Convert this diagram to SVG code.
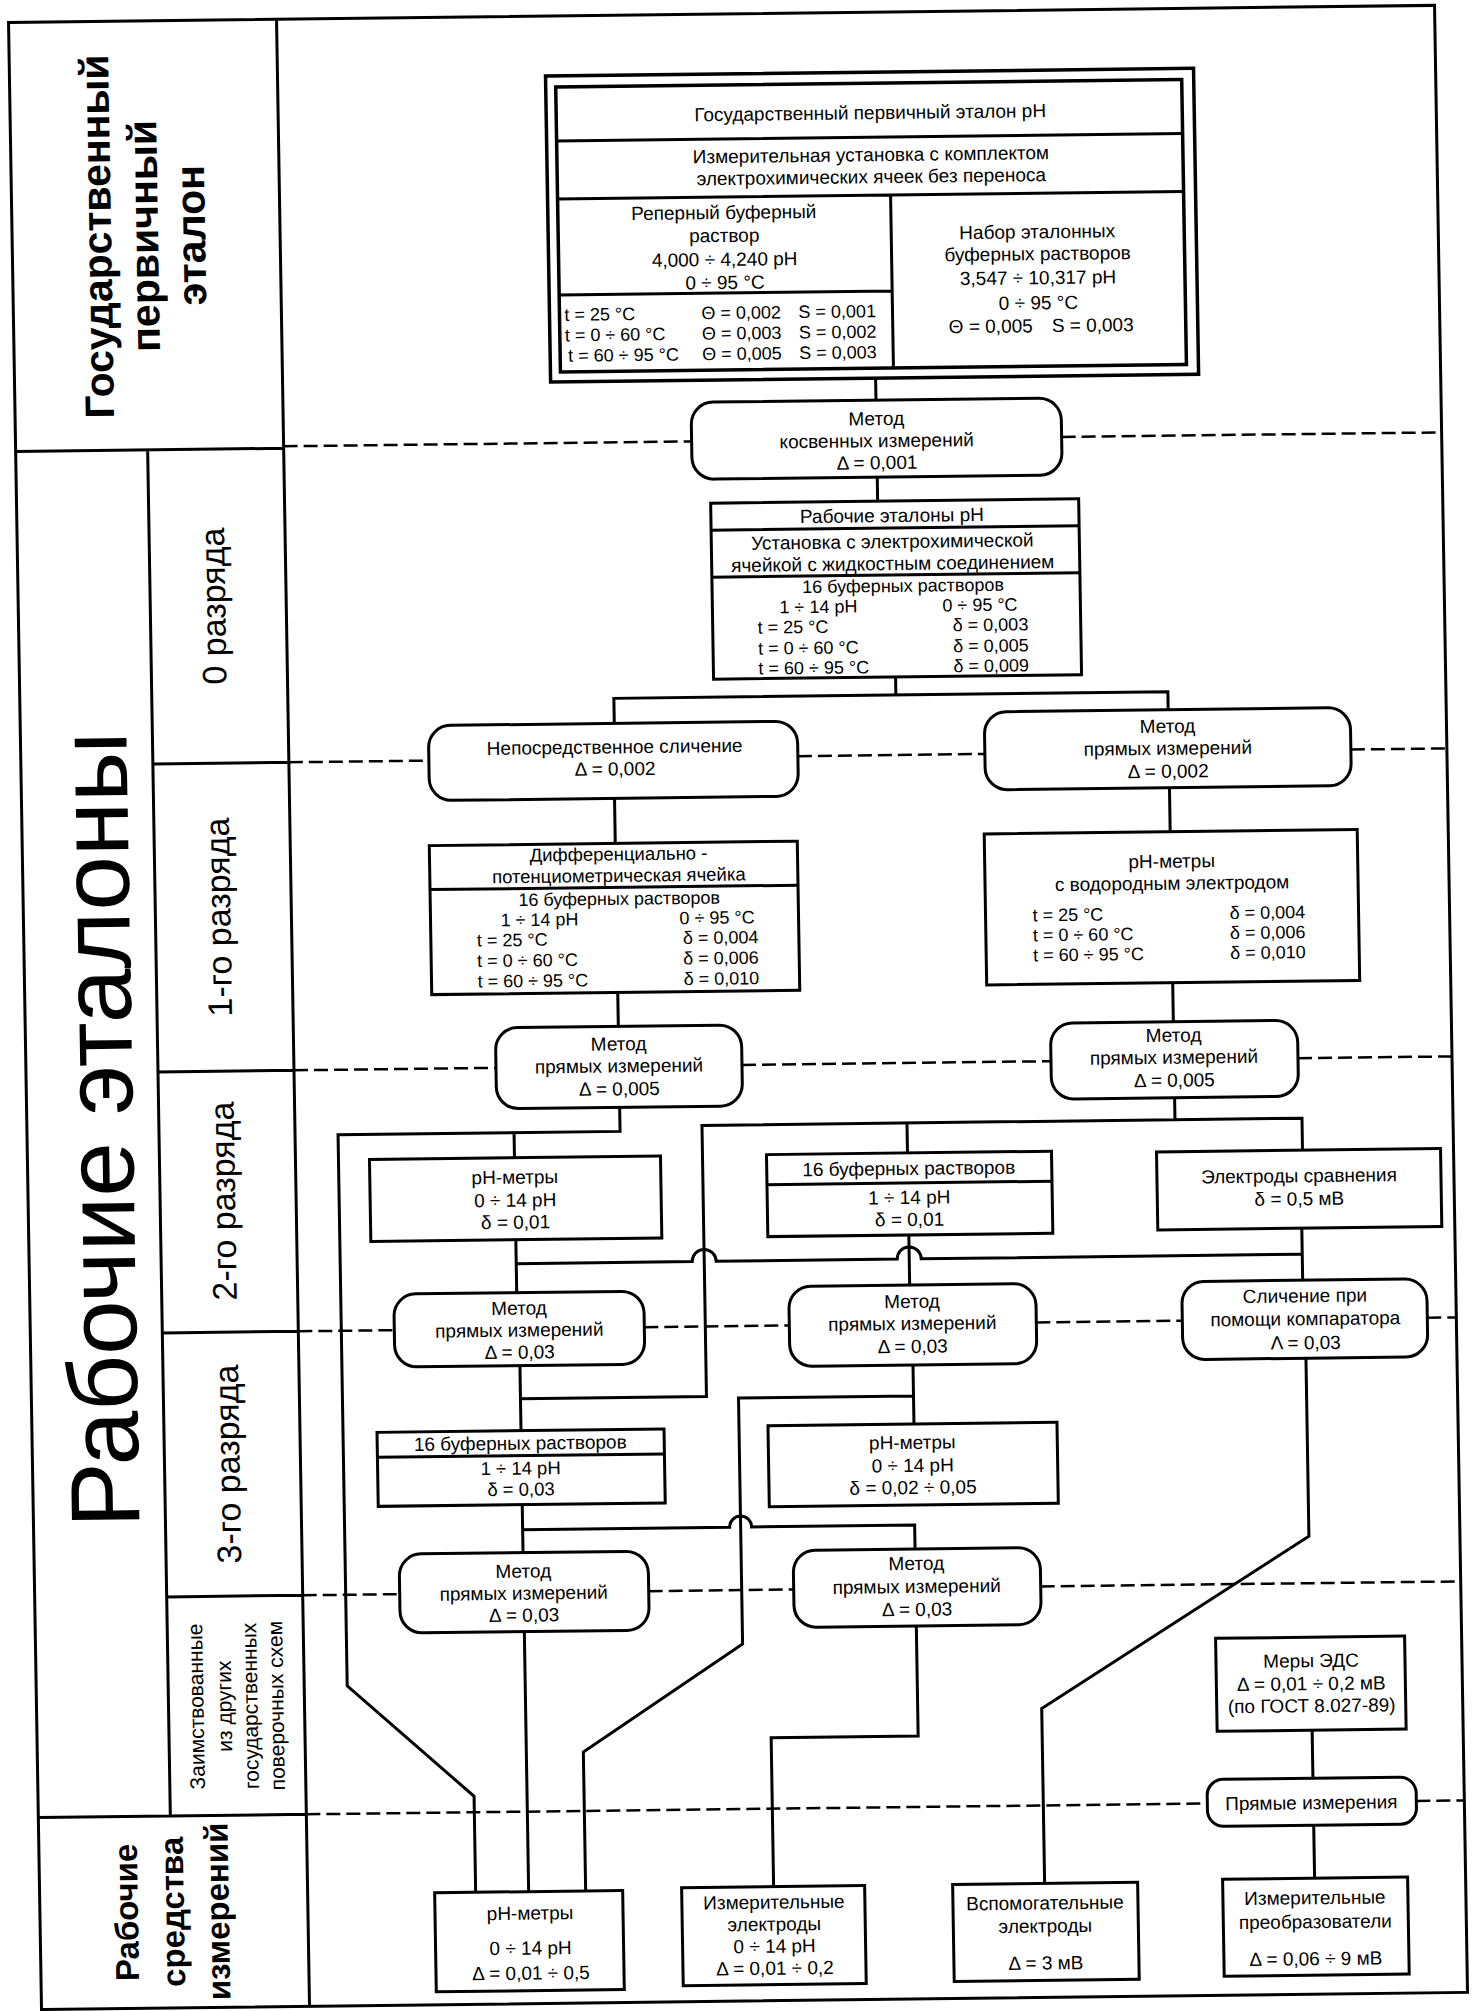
<svg xmlns="http://www.w3.org/2000/svg" width="1475" height="2011" viewBox="0 0 1475 2011">
<style>
.ln{fill:none;stroke:#000;stroke-width:3}
.bx{fill:#fff;stroke:#000;stroke-width:3}
.ds{fill:none;stroke:#000;stroke-width:2.5;stroke-dasharray:14 6}
text{font-family:"Liberation Sans",Arial,sans-serif;font-size:19px;fill:#000}
.c{text-anchor:middle}
.b{font-weight:bold}
.s{font-size:18px}
.s5{font-size:18.5px}
.rk{font-size:34px;text-anchor:middle}
.hd{font-size:41px;font-weight:bold;text-anchor:middle}
</style>
<rect x="0" y="0" width="1475" height="2011" fill="#fff"/>
<g transform="matrix(1,-0.012,0.0166,1,-16.7,8.8)">
<g id="frame">
<rect x="25" y="14" width="1426" height="1987" class="ln"/>
<path class="ln" d="M293,14V2001M25,443H293M157,443V1809M157,757H293M157,1065H293M157,1326H293M157,1590H293M25,1809H293"/>
<text class="hd" transform="translate(124,229) rotate(-90)">Государственный</text>
<text class="hd" transform="translate(171,229) rotate(-90)">первичный</text>
<text class="hd" transform="translate(218,229) rotate(-90)">эталон</text>
<text class="c" style="font-size:98px" transform="translate(131,1122) rotate(-90)">Рабочие эталоны</text>
<text class="rk" transform="translate(232,600) rotate(-90)">0 разряда</text>
<text class="rk" transform="translate(232,911) rotate(-90)">1-го разряда</text>
<text class="rk" transform="translate(232,1195) rotate(-90)">2-го разряда</text>
<text class="rk" transform="translate(232,1458) rotate(-90)">3-го разряда</text>
<text class="c" style="font-size:21px" transform="translate(192,1700) rotate(-90)">Заимствованные</text>
<text class="c" style="font-size:21px" transform="translate(220,1700) rotate(-90)">из других</text>
<text class="c" style="font-size:21px" transform="translate(246,1700) rotate(-90)">государственных</text>
<text class="c" style="font-size:21px" transform="translate(272,1700) rotate(-90)">поверочных схем</text>
<text class="c b" style="font-size:33px" transform="translate(123,1905) rotate(-90)">Рабочие</text>
<text class="c b" style="font-size:33px" transform="translate(169,1905) rotate(-90)">средства</text>
<text class="c b" style="font-size:33px" transform="translate(214,1905) rotate(-90)">измерений</text>
</g>
<g id="connectors">
<path class="ds" d="M293,441H701M1071,441H1451"/>
<path class="ds" d="M293,757H433M802,757H989M1355,757H1451"/>
<path class="ds" d="M293,1065H495M741,1065H1050M1297,1065H1451"/>
<path class="ds" d="M293,1326H389M639,1326H784M1031,1326H1177M1422,1326H1451"/>
<path class="ds" d="M293,1590H390M639,1590H784M1031,1590H1451"/>
<path class="ds" d="M293,1809H1194M1403,1809H1451"/>
<path class="ln" d="M886,380V402M886,479V503M901,679V697M619,722V697H1173V715"/>
<path class="ln" d="M618,797V842M618,991V1025M1173,793V837M1173,988V1027"/>
<path class="ln" d="M618,1106V1130H336V1681L461,1793V1889M512,1130V1155"/>
<path class="ln" d="M1173,1103V1125M1300,1157V1125H700V1396H514M905,1125V1155"/>
<path class="ln" d="M512,1237V1290M905,1237V1287M1298,1235V1287"/>
<path class="ln" d="M512,1261H688A12,12 0 0 1 712,1261H893A12,12 0 0 1 917,1261H1298"/>
<path class="ln" d="M514,1363V1428M907,1367V1426M907,1398H732V1644L571,1750V1889"/>
<path class="ln" d="M514,1502V1550M514,1527H721A11,11 0 0 1 743,1527H906V1551"/>
<path class="ln" d="M514,1629V1889M906,1628V1738H759V1887"/>
<path class="ln" d="M1300,1365V1543L1030,1712V1887"/>
<path class="ln" d="M1300,1737V1785M1300,1832V1885"/>
</g>
<g id="n-primary">
<rect x="561" y="74" width="648" height="306" fill="#fff" stroke="#000" stroke-width="3.5"/>
<rect x="571" y="85" width="626" height="285" fill="none" stroke="#000" stroke-width="3.5"/>
<path class="ln" d="M571,139H1197M571,197H1197M904,197V370M571,293H904"/>
<text class="c" x="885" y="121">Государственный первичный эталон pH</text>
<text class="c" x="885" y="163">Измерительная установка с комплектом</text>
<text class="c" x="885" y="185">электрохимических ячеек без переноса</text>
<text class="c" x="737" y="219">Реперный буферный</text>
<text class="c" x="737" y="242">раствор</text>
<text class="c" x="737" y="266">4,000 ÷ 4,240 pH</text>
<text class="c" x="737" y="289">0 ÷ 95 °C</text>
<text class="s" x="576" y="319">t = 25 °C</text><text class="s" x="713" y="319">Θ = 0,002</text><text class="s" x="810" y="319">S = 0,001</text>
<text class="s" x="576" y="339.5">t = 0 ÷ 60 °C</text><text class="s" x="713" y="339.5">Θ = 0,003</text><text class="s" x="810" y="339.5">S = 0,002</text>
<text class="s" x="579" y="360">t = 60 ÷ 95 °C</text><text class="s" x="713" y="360">Θ = 0,005</text><text class="s" x="810" y="360">S = 0,003</text>
<text class="c" x="1050" y="242">Набор эталонных</text>
<text class="c" x="1050" y="264">буферных растворов</text>
<text class="c" x="1050" y="288">3,547 ÷ 10,317 pH</text>
<text class="c" x="1050" y="313">0 ÷ 95 °C</text>
<text x="960" y="336">Θ = 0,005</text><text x="1063" y="336">S = 0,003</text>
</g>
<g id="n-kosv">
<rect x="701" y="402" width="370" height="77" rx="22" class="bx"/>
<text class="c" x="886" y="427">Метод</text>
<text class="c" x="886" y="449">косвенных измерений</text>
<text class="c" x="886" y="471">Δ = 0,001</text>
</g>
<g id="n-rab0">
<rect x="719" y="503" width="368" height="176" class="bx"/>
<path class="ln" d="M719,530H1087M719,577H1087"/>
<text class="c" x="900" y="524">Рабочие эталоны pH</text>
<text class="c" x="900" y="550">Установка с электрохимической</text>
<text class="c" x="900" y="572">ячейкой с жидкостным соединением</text>
<text class="c s" x="910" y="594">16 буферных растворов</text>
<text class="c s" x="825" y="614">1 ÷ 14 pH</text><text class="s" x="949" y="614">0 ÷ 95 °C</text>
<text class="s" x="764" y="634">t = 25 °C</text><text class="s" x="959" y="634">δ = 0,003</text>
<text class="s" x="764" y="655">t = 0 ÷ 60 °C</text><text class="s" x="959" y="655">δ = 0,005</text>
<text class="s" x="764" y="675">t = 60 ÷ 95 °C</text><text class="s" x="959" y="675">δ = 0,009</text>
</g>
<g id="n-neposr">
<rect x="433" y="722" width="369" height="75" rx="22" class="bx"/>
<text class="c" x="619" y="752">Непосредственное сличение</text>
<text class="c" x="619" y="774">Δ = 0,002</text>
</g>
<g id="n-pr1">
<rect x="989" y="715" width="366" height="78" rx="22" class="bx"/>
<text class="c" x="1172" y="738">Метод</text>
<text class="c" x="1172" y="760">прямых измерений</text>
<text class="c" x="1172" y="783">Δ = 0,002</text>
</g>
<g id="n-diff">
<rect x="432" y="842" width="368" height="149" class="bx"/>
<path class="ln" d="M432,886H800"/>
<text class="c s5" x="621" y="859">Дифференциально -</text>
<text class="c s5" x="621" y="880.5">потенциометрическая ячейка</text>
<text class="c s" x="621" y="903.5">16 буферных растворов</text>
<text class="c s" x="541" y="923.5">1 ÷ 14 pH</text><text class="s" x="681" y="923.5">0 ÷ 95 °C</text>
<text class="s" x="478" y="943.5">t = 25 °C</text><text class="s" x="684" y="943.5">δ = 0,004</text>
<text class="s" x="478" y="964">t = 0 ÷ 60 °C</text><text class="s" x="684" y="964">δ = 0,006</text>
<text class="s" x="478" y="984.5">t = 60 ÷ 95 °C</text><text class="s" x="684" y="984.5">δ = 0,010</text>
</g>
<g id="n-phh">
<rect x="987" y="837" width="373" height="151" class="bx"/>
<text class="c" x="1174" y="873">pH-метры</text>
<text class="c" x="1174" y="895">с водородным электродом</text>
<text class="s" x="1034" y="925">t = 25 °C</text><text class="s" x="1231" y="925">δ = 0,004</text>
<text class="s" x="1034" y="945">t = 0 ÷ 60 °C</text><text class="s" x="1231" y="945">δ = 0,006</text>
<text class="s" x="1034" y="965">t = 60 ÷ 95 °C</text><text class="s" x="1231" y="965">δ = 0,010</text>
</g>
<g id="n-pr2l">
<rect x="495" y="1025" width="246" height="81" rx="22" class="bx"/>
<text class="c" x="618" y="1049">Метод</text>
<text class="c" x="618" y="1071">прямых измерений</text>
<text class="c" x="618" y="1094">Δ = 0,005</text>
</g>
<g id="n-pr2r">
<rect x="1050" y="1027" width="247" height="76" rx="22" class="bx"/>
<text class="c" x="1173" y="1047">Метод</text>
<text class="c" x="1173" y="1069">прямых измерений</text>
<text class="c" x="1173" y="1092">Δ = 0,005</text>
</g>
<g id="n-ph2">
<rect x="367" y="1155" width="291" height="82" class="bx"/>
<text class="c" x="512" y="1181">pH-метры</text>
<text class="c" x="512" y="1204">0 ÷ 14 pH</text>
<text class="c" x="512" y="1226">δ = 0,01</text>
</g>
<g id="n-buf2">
<rect x="764" y="1155" width="285" height="82" class="bx"/>
<path class="ln" d="M764,1185H1049"/>
<text class="c" x="906" y="1177">16 буферных растворов</text>
<text class="c" x="906" y="1206">1 ÷ 14 pH</text>
<text class="c" x="906" y="1228">δ = 0,01</text>
</g>
<g id="n-elsr">
<rect x="1154" y="1157" width="284" height="78" class="bx"/>
<text class="c" x="1296" y="1189">Электроды сравнения</text>
<text class="c" x="1296" y="1212">δ = 0,5 мВ</text>
</g>
<g id="n-pr3l">
<rect x="389" y="1290" width="250" height="73" rx="22" class="bx"/>
<text class="c" x="514" y="1312">Метод</text>
<text class="c" x="514" y="1334">прямых измерений</text>
<text class="c" x="514" y="1356">Δ = 0,03</text>
</g>
<g id="n-pr3m">
<rect x="784" y="1287" width="247" height="80" rx="22" class="bx"/>
<text class="c" x="907" y="1310">Метод</text>
<text class="c" x="907" y="1332">прямых измерений</text>
<text class="c" x="907" y="1355">Δ = 0,03</text>
</g>
<g id="n-comp">
<rect x="1177" y="1287" width="245" height="78" rx="22" class="bx"/>
<text class="c" x="1300" y="1309">Сличение при</text>
<text class="c" x="1300" y="1332">помощи компаратора</text>
<text class="c" x="1300" y="1356">Λ = 0,03</text>
</g>
<g id="n-buf3">
<rect x="370" y="1428" width="287" height="74" class="bx"/>
<path class="ln" d="M370,1453H657"/>
<text class="c" x="513" y="1447">16 буферных растворов</text>
<text class="c s5" x="513" y="1472">1 ÷ 14 pH</text>
<text class="c s5" x="513" y="1493">δ = 0,03</text>
</g>
<g id="n-ph3">
<rect x="761" y="1426" width="289" height="81" class="bx"/>
<text class="c" x="905" y="1451">pH-метры</text>
<text class="c" x="905" y="1474">0 ÷ 14 pH</text>
<text class="c" x="905" y="1496">δ = 0,02 ÷ 0,05</text>
</g>
<g id="n-pr4l">
<rect x="390" y="1550" width="249" height="79" rx="22" class="bx"/>
<text class="c" x="514" y="1575">Метод</text>
<text class="c" x="514" y="1597">прямых измерений</text>
<text class="c" x="514" y="1619">Δ = 0,03</text>
</g>
<g id="n-pr4r">
<rect x="784" y="1551" width="247" height="77" rx="22" class="bx"/>
<text class="c" x="907" y="1572">Метод</text>
<text class="c" x="907" y="1595">прямых измерений</text>
<text class="c" x="907" y="1618">Δ = 0,03</text>
</g>
<g id="n-eds">
<rect x="1205" y="1644" width="189" height="93" class="bx"/>
<text class="c" x="1300" y="1674">Меры ЭДС</text>
<text class="c" x="1300" y="1697">Δ = 0,01 ÷ 0,2 мВ</text>
<text class="c" x="1300" y="1719">(по ГОСТ 8.027-89)</text>
</g>
<g id="n-direct">
<rect x="1194" y="1785" width="209" height="47" rx="16" class="bx"/>
<text class="c" x="1298" y="1816">Прямые измерения</text>
</g>
<g id="n-phw">
<rect x="420" y="1889" width="188" height="99" class="bx"/>
<text class="c" x="515" y="1917">pH-метры</text>
<text class="c" x="515" y="1952">0 ÷ 14 pH</text>
<text class="c" x="515" y="1977">Δ = 0,01 ÷ 0,5</text>
</g>
<g id="n-ielw">
<rect x="667" y="1887" width="183" height="98" class="bx"/>
<text class="c" x="759" y="1909">Измерительные</text>
<text class="c" x="759" y="1931">электроды</text>
<text class="c" x="759" y="1953">0 ÷ 14 pH</text>
<text class="c" x="759" y="1975">Δ = 0,01 ÷ 0,2</text>
</g>
<g id="n-vspw">
<rect x="938" y="1887" width="185" height="97" class="bx"/>
<text class="c" x="1030" y="1913">Вспомогательные</text>
<text class="c" x="1030" y="1936">электроды</text>
<text class="c" x="1030" y="1973">Δ = 3 мВ</text>
</g>
<g id="n-prew">
<rect x="1208" y="1885" width="185" height="97" class="bx"/>
<text class="c" x="1300" y="1911">Измерительные</text>
<text class="c" x="1300" y="1935">преобразователи</text>
<text class="c" x="1300" y="1972">Δ = 0,06 ÷ 9 мВ</text>
</g>
</g>
</svg>
